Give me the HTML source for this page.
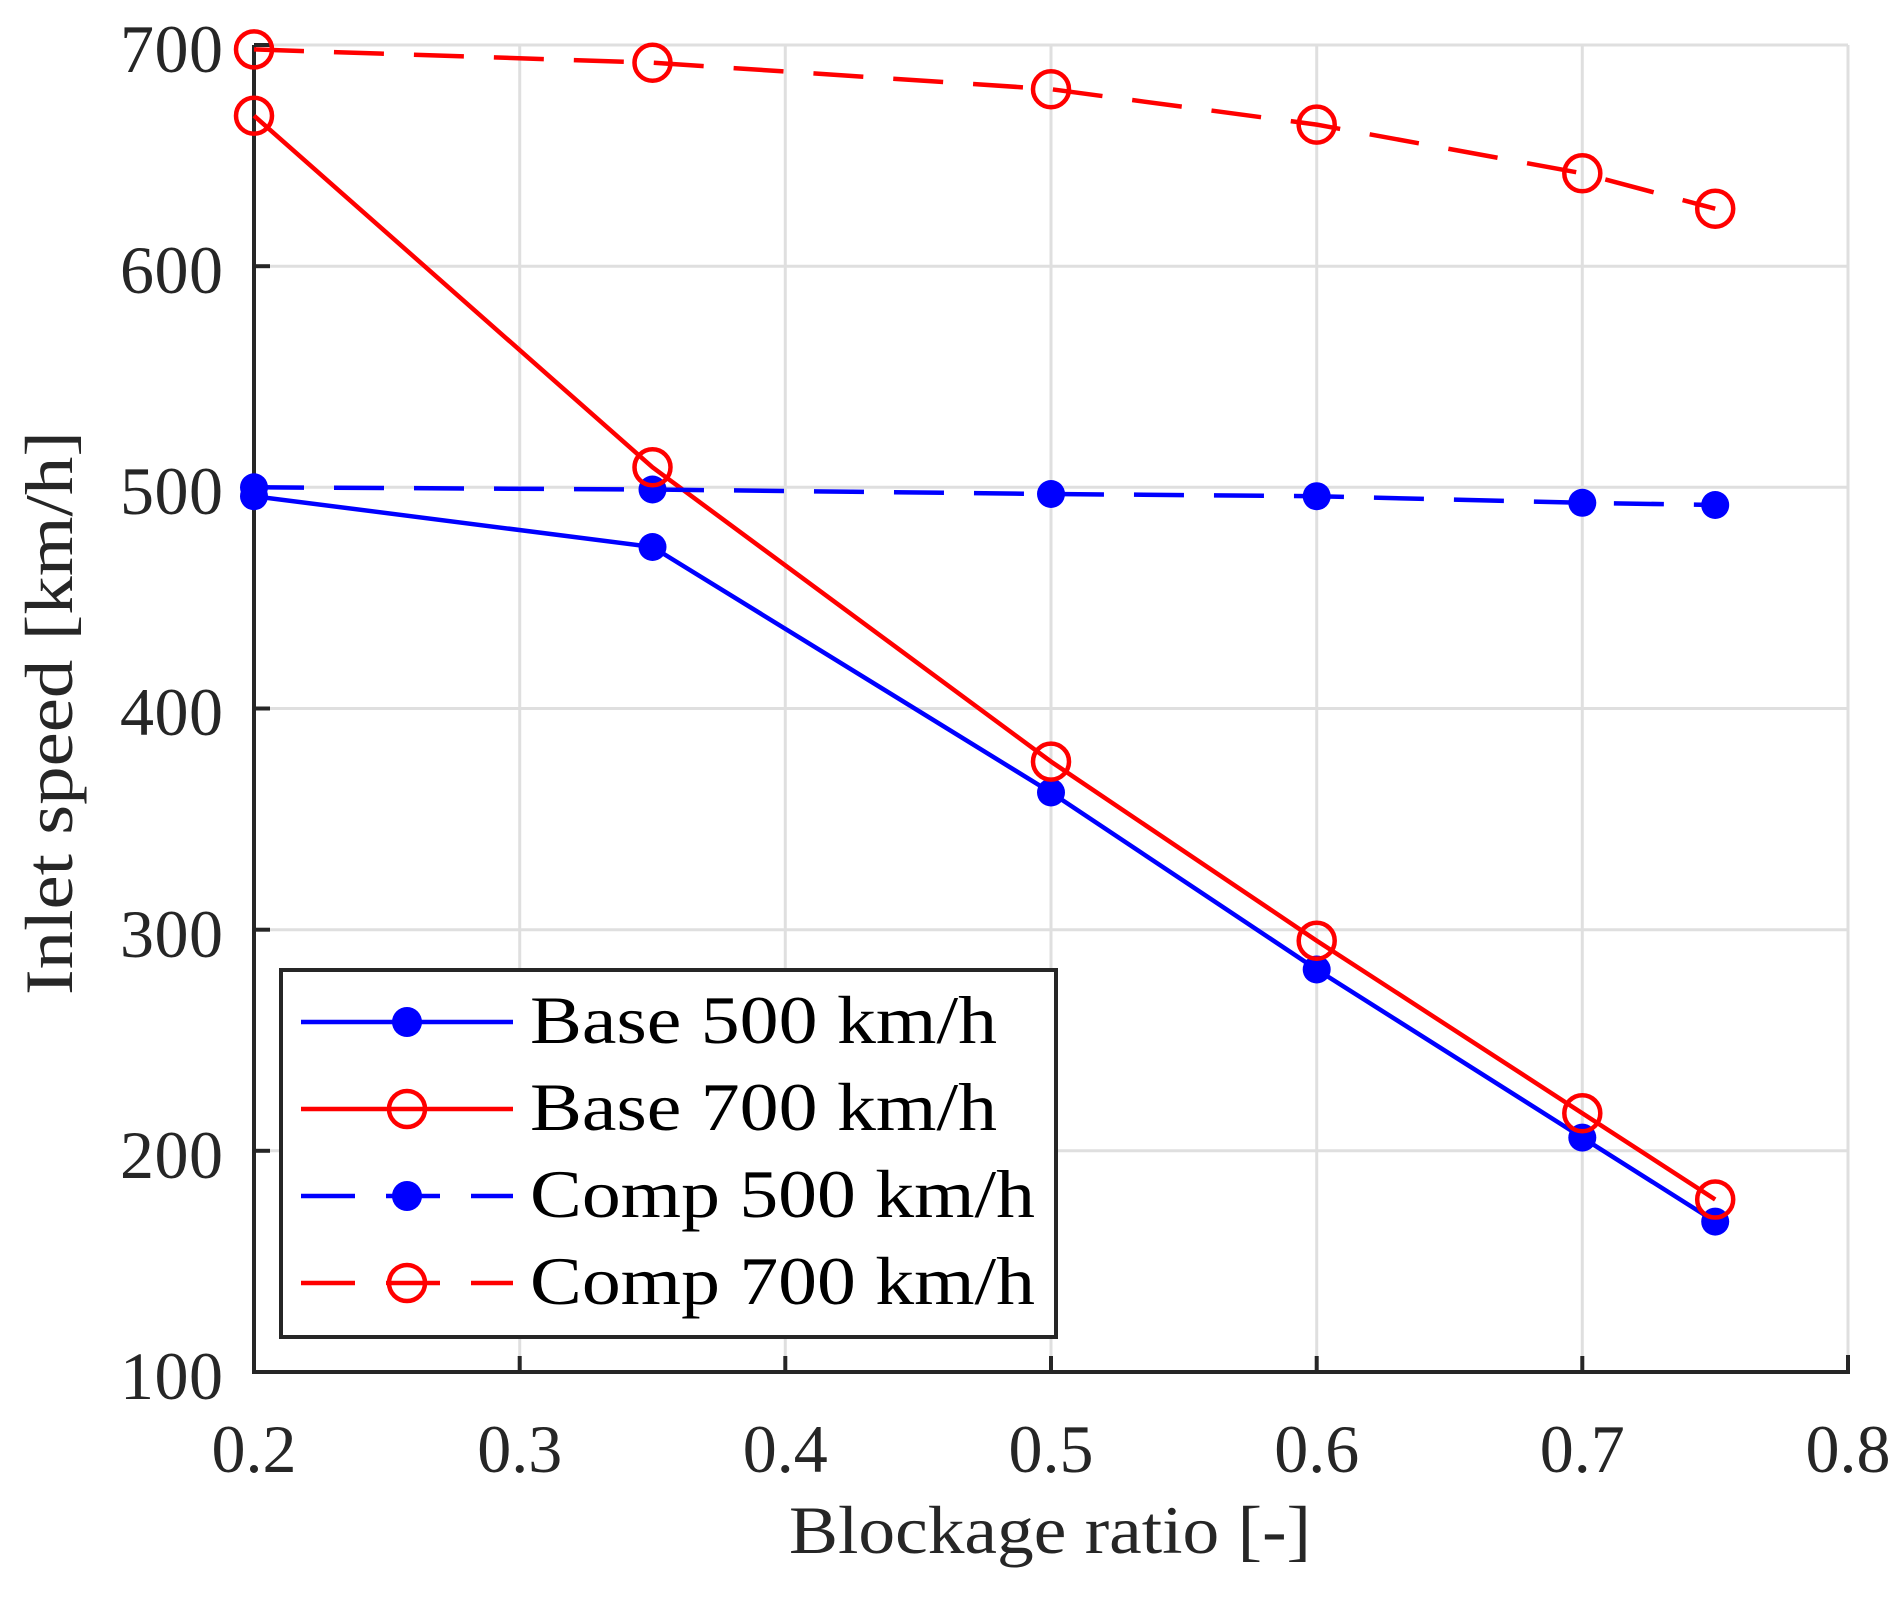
<!DOCTYPE html>
<html><head><meta charset="utf-8"><style>html,body{margin:0;padding:0;background:#fff}</style></head>
<body>
<svg width="1903" height="1606" viewBox="0 0 1903 1606" xmlns="http://www.w3.org/2000/svg" font-family="Liberation Serif, serif" fill="#262626">
<g stroke="#dfdfdf" stroke-width="3">
<line x1="519.7" y1="45" x2="519.7" y2="1372"/><line x1="785.3" y1="45" x2="785.3" y2="1372"/><line x1="1051" y1="45" x2="1051" y2="1372"/><line x1="1316.7" y1="45" x2="1316.7" y2="1372"/><line x1="1582.3" y1="45" x2="1582.3" y2="1372"/><line x1="1848" y1="45" x2="1848" y2="1372"/>
<line x1="254" y1="45" x2="1848" y2="45"/><line x1="254" y1="266.2" x2="1848" y2="266.2"/><line x1="254" y1="487.3" x2="1848" y2="487.3"/><line x1="254" y1="708.5" x2="1848" y2="708.5"/><line x1="254" y1="929.7" x2="1848" y2="929.7"/><line x1="254" y1="1150.8" x2="1848" y2="1150.8"/>
</g>
<g stroke="#262626" stroke-width="4" fill="none">
<polyline points="254,45 254,1372 1848,1372 1848,1355"/>
<line x1="519.7" y1="1372" x2="519.7" y2="1356"/><line x1="785.3" y1="1372" x2="785.3" y2="1356"/><line x1="1051" y1="1372" x2="1051" y2="1356"/><line x1="1316.7" y1="1372" x2="1316.7" y2="1356"/><line x1="1582.3" y1="1372" x2="1582.3" y2="1356"/>
<line x1="254" y1="266.2" x2="270" y2="266.2"/><line x1="254" y1="487.3" x2="270" y2="487.3"/><line x1="254" y1="708.5" x2="270" y2="708.5"/><line x1="254" y1="929.7" x2="270" y2="929.7"/><line x1="254" y1="1150.8" x2="270" y2="1150.8"/><line x1="254" y1="45" x2="270" y2="45"/>
</g>
<g font-size="68" text-anchor="end">
<text x="223" y="72" textLength="103">700</text><text x="223" y="293" textLength="103">600</text><text x="223" y="514" textLength="103">500</text><text x="223" y="735" textLength="103">400</text><text x="223" y="957" textLength="103">300</text><text x="223" y="1178" textLength="103">200</text><text x="223" y="1399" textLength="103">100</text>
</g>
<g font-size="68" text-anchor="middle">
<text x="254" y="1472">0.2</text><text x="519.7" y="1472">0.3</text><text x="785.3" y="1472">0.4</text><text x="1051" y="1472">0.5</text><text x="1316.7" y="1472">0.6</text><text x="1582.3" y="1472">0.7</text><text x="1848" y="1472">0.8</text>
<text x="1050" y="1553" textLength="522" lengthAdjust="spacingAndGlyphs">Blockage ratio [-]</text>
<text transform="translate(72,713) rotate(-90)" textLength="564" lengthAdjust="spacingAndGlyphs">Inlet speed [km/h]</text>
</g>
<g fill="none" stroke-width="4.5">
<polyline stroke="#0000ff" points="254,496.2 652.5,547 1051,792.5 1316.7,969.5 1582.3,1137.6 1715.2,1221.6"/>
<polyline stroke="#ff0000" points="254,115.7 652.5,467.3 1051,761.6 1316.7,940.7 1582.3,1113.2 1715.2,1199.5"/>
<polyline stroke="#0000ff" stroke-dasharray="50,30" points="254,487.3 652.5,489.5 1051,494 1316.7,496.2 1582.3,502.8 1715.2,505"/>
<polyline stroke="#ff0000" stroke-dasharray="50,30" points="254,49.4 652.5,62.7 1051,89.2 1316.7,124.6 1582.3,173.3 1715.2,208.7"/>
</g>
<g fill="#0000ff">
<circle cx="254" cy="496.2" r="14"/><circle cx="652.5" cy="547" r="14"/><circle cx="1051" cy="792.5" r="14"/><circle cx="1316.7" cy="969.5" r="14"/><circle cx="1582.3" cy="1137.6" r="14"/><circle cx="1715.2" cy="1221.6" r="14"/>
<circle cx="254" cy="487.3" r="14"/><circle cx="652.5" cy="489.5" r="14"/><circle cx="1051" cy="494" r="14"/><circle cx="1316.7" cy="496.2" r="14"/><circle cx="1582.3" cy="502.8" r="14"/><circle cx="1715.2" cy="505" r="14"/>
</g>
<g fill="none" stroke="#ff0000" stroke-width="4.5">
<circle cx="254" cy="115.7" r="18"/><circle cx="652.5" cy="467.3" r="18"/><circle cx="1051" cy="761.6" r="18"/><circle cx="1316.7" cy="940.7" r="18"/><circle cx="1582.3" cy="1113.2" r="18"/><circle cx="1715.2" cy="1199.5" r="18"/>
<circle cx="254" cy="49.4" r="18"/><circle cx="652.5" cy="62.7" r="18"/><circle cx="1051" cy="89.2" r="18"/><circle cx="1316.7" cy="124.6" r="18"/><circle cx="1582.3" cy="173.3" r="18"/><circle cx="1715.2" cy="208.7" r="18"/>
</g>
<rect x="281" y="970" width="775" height="367" fill="#fff" stroke="#262626" stroke-width="4"/>
<g stroke-width="4.5" fill="none">
<line x1="301" y1="1022" x2="513" y2="1022" stroke="#0000ff"/>
<line x1="301" y1="1109" x2="513" y2="1109" stroke="#ff0000"/>
<line x1="301" y1="1196" x2="513" y2="1196" stroke="#0000ff" stroke-dasharray="54,31"/>
<line x1="301" y1="1283" x2="513" y2="1283" stroke="#ff0000" stroke-dasharray="54,31"/>
<circle cx="407" cy="1109" r="18" stroke="#ff0000"/>
<circle cx="407" cy="1283" r="18" stroke="#ff0000"/>
</g>
<circle cx="407" cy="1022" r="15" fill="#0000ff"/>
<circle cx="407" cy="1196" r="15" fill="#0000ff"/>
<g font-size="68" fill="#000">
<text x="530" y="1043" textLength="467" lengthAdjust="spacingAndGlyphs">Base 500 km/h</text>
<text x="530" y="1130" textLength="467" lengthAdjust="spacingAndGlyphs">Base 700 km/h</text>
<text x="530" y="1217" textLength="505" lengthAdjust="spacingAndGlyphs">Comp 500 km/h</text>
<text x="530" y="1304" textLength="505" lengthAdjust="spacingAndGlyphs">Comp 700 km/h</text>
</g>
</svg>
</body></html>
